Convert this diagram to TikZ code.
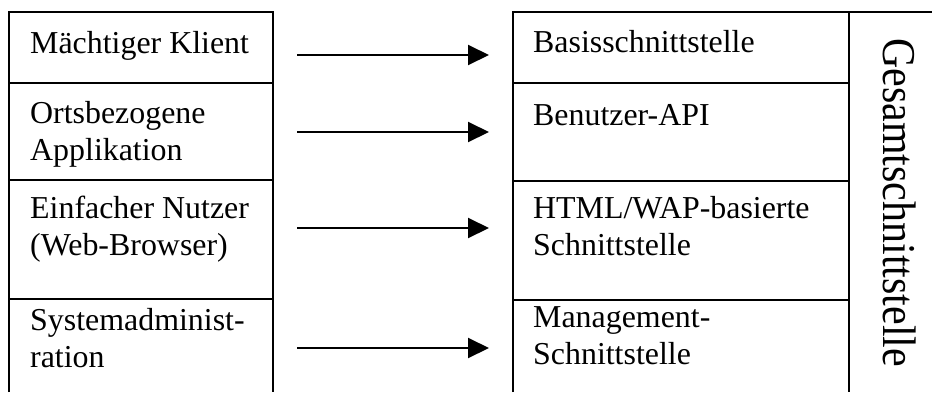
\documentclass[tikz,border=0pt]{standalone}
\usepackage{fontspec}
\setmainfont{Liberation Serif}
\usetikzlibrary{arrows.meta}
\begin{document}
\begin{tikzpicture}[x=1pt,y=-1pt,
  rule/.style={line width=2pt},
  cell/.style={inner sep=0pt, anchor=base west, align=left,
    font=\fontsize{31.9}{37}\selectfont},
  flow/.style={line width=2pt, -{Triangle[length=21pt,width=20pt]}}]
\useasboundingbox (0,0) rectangle (932,392);

% left table: clients
\draw[rule] (9,392) -- (9,12) -- (273,12) -- (273,392);
\draw[rule] (9,83) -- (273,83) (9,180) -- (273,180) (9,299) -- (273,299);

% right table: interfaces plus the vertical total column
\draw[rule] (513,392) -- (513,12) -- (932,12);
\draw[rule] (849,12) -- (849,392);
\draw[rule] (513,83) -- (849,83) (513,181) -- (849,181) (513,300) -- (849,300);

% client cells (base anchor sits on the last line)
\node[cell] (c1) at (30,53) {Mächtiger Klient};
\node[cell] (c2) at (30,160) {Ortsbezogene\\Applikation};
\node[cell] (c3) at (30,255) {Einfacher Nutzer\\(Web-Browser)};
\node[cell] (c4) at (30,367) {Systemadminist-\\ration};

% interface cells
\node[cell] (i1) at (533,52) {Basisschnittstelle};
\node[cell] (i2) at (533,125) {Benutzer-API};
\node[cell] (i3) at (533,255) {HTML/WAP-basierte\\Schnittstelle};
\node[cell] (i4) at (533,364) {Management-\\Schnittstelle};

% vertical label of the total interface (slightly tall letters)
\node[inner sep=0pt, rotate=-90, anchor=base west,
  font=\fontsize{42}{42}\selectfont] (gs) at (883,38)
  {\scalebox{1}[1.12]{Gesamtschnittstelle}};

% arrow ends
\coordinate (a1) at (297,55);  \coordinate (b1) at (489,55);
\coordinate (a2) at (297,132); \coordinate (b2) at (489,132);
\coordinate (a3) at (297,228); \coordinate (b3) at (489,228);
\coordinate (a4) at (297,348); \coordinate (b4) at (489,348);

\draw[flow] (a1) -- (b1);
\draw[flow] (a2) -- (b2);
\draw[flow] (a3) -- (b3);
\draw[flow] (a4) -- (b4);
\end{tikzpicture}
\end{document}
